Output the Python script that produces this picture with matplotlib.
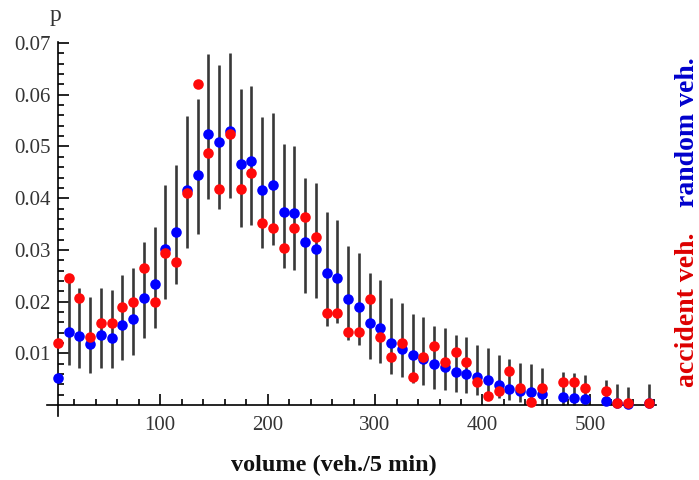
import numpy as np
import matplotlib
matplotlib.use("Agg")
import matplotlib.pyplot as plt
from matplotlib.ticker import FixedLocator, FuncFormatter

# bin centres (veh./5 min)
volume = [5, 15, 25, 35, 45, 55, 65, 75, 85, 95,
          105, 115, 125, 135, 145, 155, 165, 175, 185, 195,
          205, 215, 225, 235, 245, 255, 265, 275, 285, 295,
          305, 315, 325, 335, 345, 355, 365, 375, 385, 395,
          405, 415, 425, 435, 445, 455, 475, 485, 495,
          515, 525, 535, 555]

random_p = [0.0052, 0.0141, 0.0134, 0.0119, 0.0135, 0.0130, 0.0155, 0.0166, 0.0208, 0.0234,
            0.0302, 0.0334, 0.0416, 0.0445, 0.0524, 0.0508, 0.0529, 0.0466, 0.0471, 0.0416,
            0.0425, 0.0373, 0.0371, 0.0315, 0.0302, 0.0255, 0.0245, 0.0205, 0.0190, 0.0158,
            0.0150, 0.0121, 0.0108, 0.0097, 0.0090, 0.0079, 0.0074, 0.0065, 0.0061, 0.0055,
            0.0048, 0.0039, 0.0032, 0.0028, 0.0025, 0.0021, 0.0016, 0.0014, 0.0011,
            0.0008, 0.0004, 0.0003, 0.0005]

accident_p = [0.0121, 0.0245, 0.0208, 0.0132, 0.0158, 0.0158, 0.0190, 0.0200, 0.0266, 0.0200,
              0.0294, 0.0276, 0.0410, 0.0621, 0.0487, 0.0417, 0.0525, 0.0417, 0.0448, 0.0353,
              0.0342, 0.0303, 0.0342, 0.0363, 0.0325, 0.0179, 0.0179, 0.0141, 0.0141, 0.0206,
              0.0132, 0.0094, 0.0121, 0.0055, 0.0094, 0.0115, 0.0083, 0.0103, 0.0083, 0.0045,
              0.0017, 0.0028, 0.0066, 0.0034, 0.0006, 0.0034, 0.0045, 0.0045, 0.0034,
              0.0028, 0.0005, 0.0005, 0.0005]

band_lo = [np.nan, 0.0077, 0.0071, 0.0063, 0.0071, 0.0071, 0.0088, 0.0097, 0.0129, 0.0150,
           0.0206, 0.0234, 0.0303, 0.0331, 0.0398, 0.0380, 0.0400, 0.0345, 0.0348, 0.0303,
           0.0310, 0.0265, 0.0261, 0.0216, 0.0208, 0.0153, 0.0158, 0.0126, 0.0116, 0.0090,
           0.0081, 0.0061, 0.0055, 0.0042, 0.0039, 0.0032, 0.0029, 0.0026, 0.0023, 0.0019,
           0.0016, 0.0013, 0.0010, 0.0006, 0.0003, 0.0001, 0.0001, 0.0001, 0.0001,
           0.0, 0.0, 0.0, 0.0]

band_hi = [np.nan, 0.0245, 0.0226, 0.0210, 0.0226, 0.0223, 0.0252, 0.0265, 0.0316, 0.0345,
           0.0426, 0.0465, 0.0558, 0.0592, 0.0679, 0.0658, 0.0680, 0.0611, 0.0616, 0.0557,
           0.0565, 0.0505, 0.0501, 0.0440, 0.0429, 0.0373, 0.0358, 0.0308, 0.0294, 0.0255,
           0.0241, 0.0208, 0.0198, 0.0177, 0.0171, 0.0153, 0.0150, 0.0135, 0.0131, 0.0116,
           0.0111, 0.0097, 0.0090, 0.0081, 0.0079, 0.0071, 0.0065, 0.0063, 0.0058,
           0.0048, 0.0040, 0.0035, 0.0040]

serif = ['Liberation Serif', 'DejaVu Serif']

fig = plt.figure(figsize=(6.99, 4.8), dpi=100)
ax = fig.add_axes([0.0668, 0.1333, 0.871, 0.7792])

ax.vlines(volume, band_lo, band_hi, color='#383838', lw=1.9, zorder=2)
ax.plot(volume, random_p, 'o', color='#0000ff', ms=7.6, mew=0, zorder=3)
ax.plot(volume, accident_p, 'o', color='#ff0a0a', ms=7.6, mew=0, zorder=4)

ax.set_xlim(-5.5, 561)
ax.set_ylim(-0.0021, 0.0702)

for s in ['top', 'right']:
    ax.spines[s].set_visible(False)
ax.spines['left'].set_position(('data', 5))
ax.spines['bottom'].set_position(('data', 0))
for s in ['left', 'bottom']:
    ax.spines[s].set_linewidth(1.2)

ax.xaxis.set_major_locator(FixedLocator([100, 200, 300, 400, 500]))
ax.xaxis.set_minor_locator(FixedLocator([v for v in range(0, 561, 20) if v % 100 != 0]))
ax.yaxis.set_major_locator(FixedLocator([0.01, 0.02, 0.03, 0.04, 0.05, 0.06, 0.07]))
ax.yaxis.set_minor_locator(FixedLocator([v / 1000 for v in range(2, 70, 2) if v % 10 != 0]))
ax.yaxis.set_major_formatter(FuncFormatter(lambda v, p: '%.2f' % v))

ax.tick_params(which='both', direction='in', color='black', width=1.2)
ax.tick_params(which='major', length=8)
ax.tick_params(which='minor', length=4.5)
ax.tick_params(axis='y', pad=5, labelsize=15, labelcolor='#333333')
ax.tick_params(axis='x', pad=8, labelsize=15, labelcolor='#333333')
for lab in ax.get_xticklabels() + ax.get_yticklabels():
    lab.set_family(serif)

fig.text(0.08, 0.968, 'p', family=serif, fontsize=17, color='#333333', ha='center', va='center')
fig.text(0.477, 0.03, 'volume (veh./5 min)', family=serif, fontsize=17.5, fontweight='bold',
         color='#111111', ha='center', va='center')
fig.text(0.983, 0.354, 'accident veh.', family=serif, fontsize=20, fontweight='bold',
         color='#dd0000', rotation=90, ha='center', va='center')
fig.text(0.983, 0.725, 'random veh.', family=serif, fontsize=20, fontweight='bold',
         color='#0000cc', rotation=90, ha='center', va='center')

fig.savefig('out.png', dpi=100)
